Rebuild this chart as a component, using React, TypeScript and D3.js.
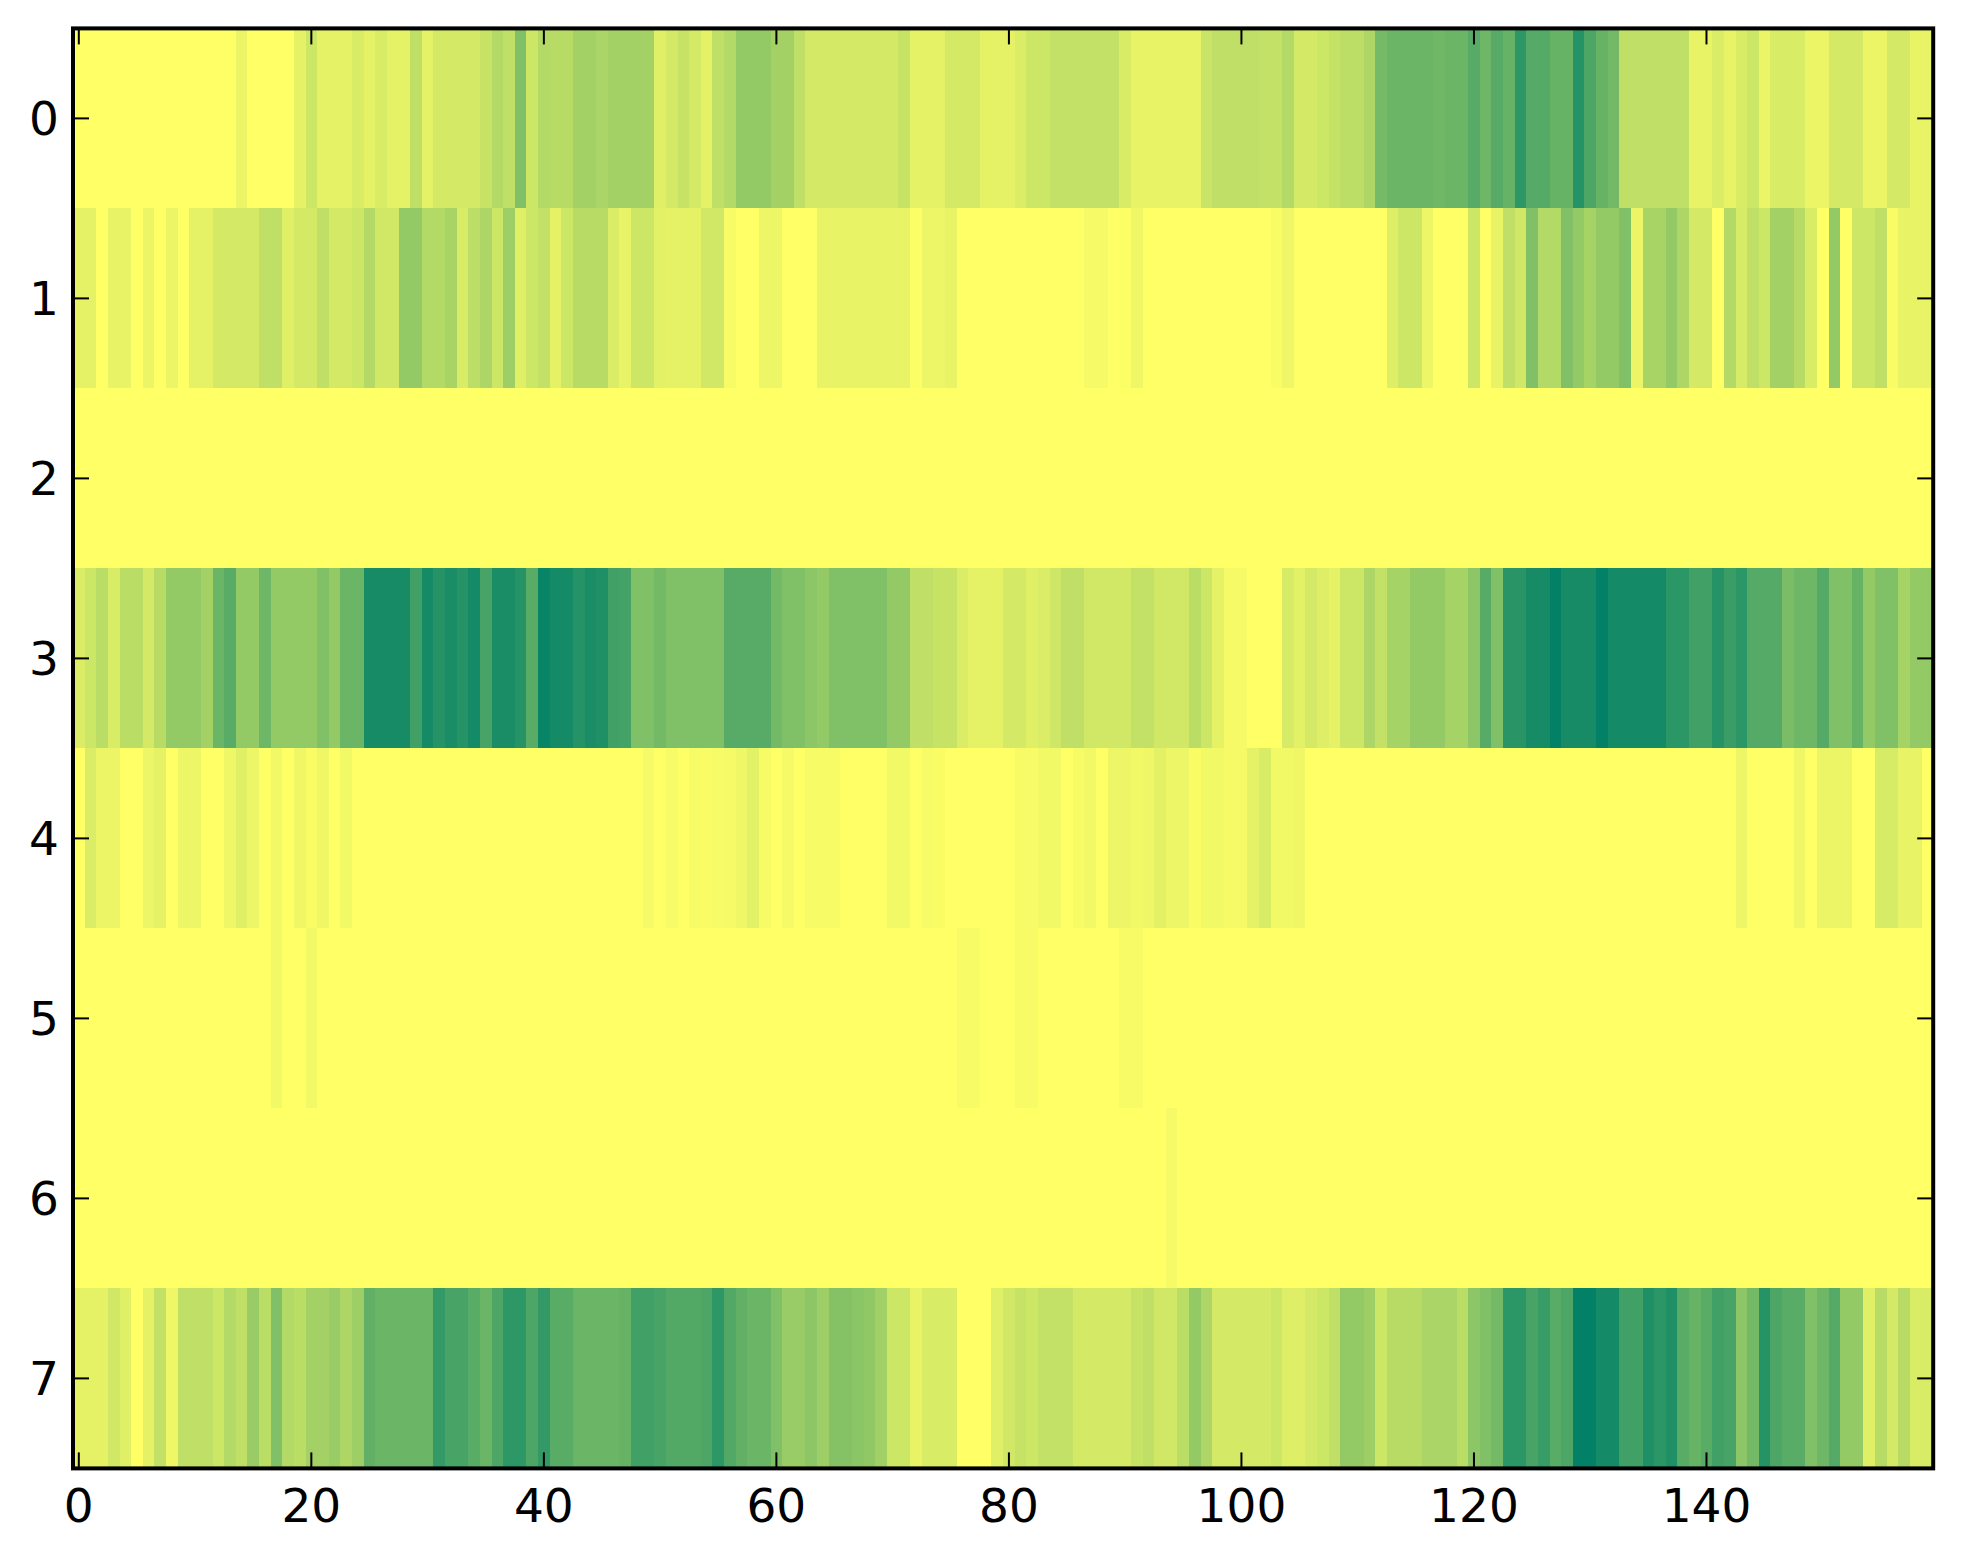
import React from "react";
import * as d3 from "d3";

const W = 1963, H = 1564;
const xTicks = [0, 20, 40, 60, 80, 100, 120, 140];
const yTicks = [0, 1, 2, 3, 4, 5, 6, 7];

// values x100 (0 = pale yellow end, 100 = dark green end of the colormap)
const row0 = [
  0,0,0,0,0,0,0,0,0,0,
  0,0,0,0,8,0,0,0,0,10,
  20,10,10,10,15,10,15,10,10,25,
  10,17,17,17,17,22,30,25,50,20,
  30,28,28,36,36,33,36,36,36,36,
  12,17,22,17,10,25,30,42,42,42,
  36,36,25,17,17,17,17,17,17,17,
  17,22,10,10,10,17,17,17,10,10,
  10,14,20,20,24,24,24,24,24,24,
  15,9,9,9,9,9,9,21,25,25,
  25,25,24,24,30,17,17,20,23,26,
  26,32,54,58,58,58,58,56,58,58,
  66,57,66,60,82,67,67,60,60,85,
  70,60,55,25,25,25,25,25,25,9,
  9,14,9,15,20,8,15,15,15,8,
  8,17,17,17,8,8,17,17,9,9,
];
const row1 = [
  10,10,0,9,9,0,8,0,8,0,
  10,10,17,17,17,17,25,25,12,17,
  17,25,17,17,20,30,18,18,42,42,
  30,30,34,15,26,32,20,38,12,20,
  24,10,20,28,28,28,14,9,20,20,
  11,10,10,10,18,18,3,0,0,7,
  7,0,0,0,9,9,9,9,9,9,
  9,9,1,7,7,9,0,0,0,0,
  0,0,0,0,0,0,0,4,4,0,
  1,6,0,0,0,0,0,0,0,0,
  0,0,0,2,6,0,0,0,0,0,
  0,0,0,13,20,20,7,0,0,0,
  20,0,9,25,18,50,30,30,50,42,
  35,42,42,50,8,34,34,42,32,17,
  17,0,30,16,25,20,36,36,28,15,
  0,42,0,20,20,25,2,9,9,9,
];
const row2 = new Array(160).fill(0) as number[];
const row3 = [
  14,20,27,15,27,27,17,28,42,42,
  42,36,58,65,42,42,57,42,42,42,
  42,50,42,58,58,91,91,91,91,75,
  92,85,90,85,92,72,90,90,85,65,
  97,92,92,85,90,88,75,73,50,50,
  55,50,50,50,50,50,66,66,66,66,
  55,50,50,45,42,50,50,50,50,50,
  42,42,25,25,22,22,14,10,10,10,
  17,17,12,14,19,25,25,18,18,18,
  18,24,24,18,18,18,27,20,10,4,
  4,0,0,0,16,11,17,13,10,20,
  20,32,24,35,35,42,42,42,35,35,
  45,66,50,84,84,91,91,99,91,91,
  91,99,92,92,92,92,92,83,83,75,
  75,85,77,83,67,67,67,52,57,57,
  67,50,50,60,42,50,50,35,42,42,
];
const row4 = [
  0,14,8,8,0,0,7,10,0,7,
  7,0,0,6,12,7,0,5,0,6,
  2,6,0,5,0,0,0,0,0,0,
  0,0,0,0,0,0,0,0,0,0,
  0,0,0,0,0,0,0,0,0,4,
  0,3,0,3,2,3,4,6,11,3,
  0,4,0,3,3,3,0,0,0,0,
  5,5,0,3,2,0,0,0,0,0,
  0,3,3,5,5,0,3,5,0,7,
  7,5,6,11,7,7,2,5,5,4,
  4,10,15,5,5,6,0,0,0,0,
  0,0,0,0,0,0,0,0,0,0,
  0,0,0,0,0,0,0,0,0,0,
  0,0,0,0,0,0,0,0,0,0,
  0,0,0,7,0,0,0,0,6,0,
  8,8,8,0,0,16,16,9,9,0,
];
const row5 = [
  0,0,0,0,0,0,0,0,0,0,
  0,0,0,0,0,0,0,5,0,0,
  5,0,0,0,0,0,0,0,0,0,
  0,0,0,0,0,0,0,0,0,0,
  0,0,0,0,0,0,0,0,0,0,
  0,0,0,0,0,0,0,0,0,0,
  0,0,0,0,0,0,0,0,0,0,
  0,0,0,0,0,0,3,3,0,0,
  0,3,3,0,0,0,0,0,0,0,
  3,3,0,0,0,0,0,0,0,0,
  0,0,0,0,0,0,0,0,0,0,
  0,0,0,0,0,0,0,0,0,0,
  0,0,0,0,0,0,0,0,0,0,
  0,0,0,0,0,0,0,0,0,0,
  0,0,0,0,0,0,0,0,0,0,
  0,0,0,0,0,0,0,0,0,0,
];
const row6 = [
  0,0,0,0,0,0,0,0,0,0,
  0,0,0,0,0,0,0,0,0,0,
  0,0,0,0,0,0,0,0,0,0,
  0,0,0,0,0,0,0,0,0,0,
  0,0,0,0,0,0,0,0,0,0,
  0,0,0,0,0,0,0,0,0,0,
  0,0,0,0,0,0,0,0,0,0,
  0,0,0,0,0,0,0,0,0,0,
  0,0,0,0,0,0,0,0,0,0,
  0,0,0,0,4,0,0,0,0,0,
  0,0,0,0,0,0,0,0,0,0,
  0,0,0,0,0,0,0,0,0,0,
  0,0,0,0,0,0,0,0,0,0,
  0,0,0,0,0,0,0,0,0,0,
  0,0,0,0,0,0,0,0,0,0,
  0,0,0,0,0,0,0,0,0,0,
];
const row7 = [
  10,10,10,18,12,0,10,24,6,25,
  25,25,20,30,25,40,27,50,30,27,
  36,36,40,32,38,62,58,58,58,58,
  58,80,72,72,65,58,70,82,82,70,
  80,65,65,58,58,58,58,60,75,75,
  72,68,68,68,70,82,68,62,58,58,
  50,40,40,45,38,48,48,46,43,37,
  20,20,9,15,15,15,0,0,0,12,
  18,22,20,24,24,24,17,17,17,17,
  17,22,25,18,18,27,42,32,17,17,
  17,17,17,20,13,13,17,20,25,42,
  42,38,20,28,28,28,33,33,33,27,
  45,50,55,83,83,72,78,65,70,99,
  99,92,92,75,75,88,83,88,65,60,
  65,75,72,45,55,85,70,65,65,50,
  57,67,42,42,12,28,17,28,15,15,
];
const rows = [row0, row1, row2, row3, row4, row5, row6, row7];

const left = 73, right = 1933.2, top = 28.4, bottom = 1468.4;
const x = d3.scaleLinear().domain([-0.5, 159.5]).range([left, right]);
const y = d3.scaleLinear().domain([-0.5, 7.5]).range([top, bottom]);
const color = d3.scaleLinear<string>().domain([0, 100]).range(["#ffff66", "#008066"]);

const fontFamily = "'DejaVu Sans', sans-serif";
const fontSize = 47;
const tickLen = 16;

export default function App() {
  return (
    <svg width={W} height={H} viewBox={`0 0 ${W} ${H}`}
      style={{ position: "absolute", left: 0, top: 0, background: "#fff", display: "block" }}>
      <g shapeRendering="crispEdges">
        {rows.map((row, r) =>
          row.map((v, c) => (
            <rect key={`${r}-${c}`} x={x(c - 0.5)} y={y(r - 0.5)}
              width={x(c + 0.5) - x(c - 0.5) + 0.5} height={y(r + 0.5) - y(r - 0.5)} fill={color(v)} />
          ))
        )}
      </g>
      <g stroke="#000" strokeWidth={2}>
        {xTicks.map((t) => (
          <g key={t}>
            <line x1={x(t)} x2={x(t)} y1={top} y2={top + tickLen} />
            <line x1={x(t)} x2={x(t)} y1={bottom} y2={bottom - tickLen} />
          </g>
        ))}
        {yTicks.map((t) => (
          <g key={t}>
            <line x1={left} x2={left + tickLen} y1={y(t)} y2={y(t)} />
            <line x1={right} x2={right - tickLen} y1={y(t)} y2={y(t)} />
          </g>
        ))}
      </g>
      <rect x={left} y={top} width={right - left} height={bottom - top} fill="none" stroke="#000" strokeWidth={4} />
      <g fontFamily={fontFamily} fontSize={fontSize} fill="#000">
        {xTicks.map((t) => (
          <text key={t} x={x(t)} y={1522} textAnchor="middle">{t}</text>
        ))}
        {yTicks.map((t) => (
          <text key={t} x={59} y={y(t) + 16.5} textAnchor="end">{t}</text>
        ))}
      </g>
    </svg>
  );
}
